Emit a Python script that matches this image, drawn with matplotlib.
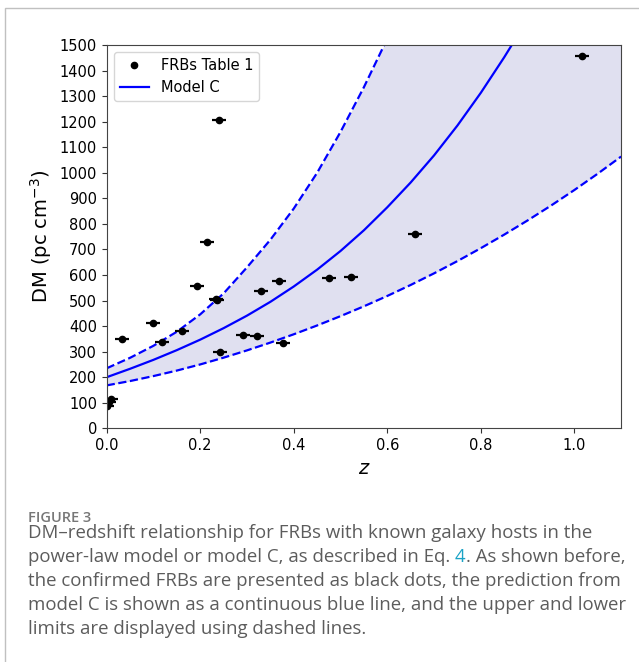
import matplotlib
matplotlib.use("Agg")
import matplotlib.pyplot as plt
from matplotlib.patches import Rectangle
import numpy as np

# FRBs from Table 1 (redshift, DM)
frb_z = [0.0008, 0.0039, 0.0087, 0.0337, 0.098, 0.1178, 0.16, 0.193, 0.2145, 0.234,
         0.2365, 0.241, 0.2432, 0.291, 0.3214, 0.3305, 0.3688, 0.378, 0.4755, 0.522,
         0.66, 1.016]
frb_dm = [88, 103, 114, 349, 413, 339, 380, 557, 730, 507,
          504, 1205, 297, 364, 362, 536, 578, 333, 589, 593,
          760, 1458]
frb_zerr = 0.015

# model C curves
model_z = [0.0, 0.05, 0.10, 0.15, 0.20, 0.25, 0.30, 0.35, 0.40, 0.45, 0.50, 0.55,
           0.60, 0.65, 0.70, 0.75, 0.80, 0.85, 0.90]
model_dm = [200, 233, 268, 306, 347, 392, 441, 495, 555, 621, 694, 775,
            865, 962, 1068, 1185, 1313, 1452, 1600]

upper_z = [0.0, 0.05, 0.10, 0.15, 0.20, 0.25, 0.30, 0.35, 0.40, 0.45, 0.50, 0.55, 0.60]
upper_dm = [235, 276, 323, 378, 446, 528, 630, 738, 860, 1000, 1160, 1335, 1525]

lower_z = [0.0, 0.05, 0.10, 0.15, 0.20, 0.25, 0.30, 0.35, 0.40, 0.45, 0.50, 0.55,
           0.60, 0.65, 0.70, 0.75, 0.80, 0.85, 0.90, 0.95, 1.00, 1.05, 1.10]
lower_dm = [168, 185, 204.5, 226, 250, 276.5, 305, 335.5, 368, 402.5, 439, 477.5,
            518, 561, 606.5, 654.5, 705, 758, 813.5, 871.5, 932.5, 996.5, 1063.5]

ymax = 1500

fig = plt.figure(figsize=(6.39, 6.62), dpi=100)
ax = fig.add_axes([0.167, 0.353, 0.805, 0.579])

# shaded band between the limits (upper limit leaves the plot at the top)
band_top = np.interp(lower_z, upper_z, upper_dm, right=ymax)
ax.fill_between(lower_z, lower_dm, band_top, color='#e0e0f0', lw=0)

ax.plot(upper_z, upper_dm, '--', color='blue', lw=1.6)
ax.plot(lower_z, lower_dm, '--', color='blue', lw=1.6)
ax.plot(model_z, model_dm, '-', color='blue', lw=1.6, label='Model C')

ax.errorbar(frb_z, frb_dm, xerr=frb_zerr, fmt='none', ecolor='black', elinewidth=1.6)
ax.plot(frb_z, frb_dm, 'o', color='black', ms=4.5, ls='none', label='FRBs Table 1')

ax.set_xlim(0, 1.1)
ax.set_ylim(0, ymax)
ax.set_xticks(np.arange(0, 1.01, 0.2))
ax.set_yticks(np.arange(0, 1501, 100))
ax.tick_params(labelsize=10.5, color='#333333')
for s in ax.spines.values():
    s.set_color('#444444')

ax.set_xlabel('$z$', fontsize=14)
ax.set_ylabel('DM (pc cm$^{-3}$)', fontsize=14)

h, l = ax.get_legend_handles_labels()
ax.legend([h[1], h[0]], [l[1], l[0]], loc='upper left', fontsize=10.5)

# page frame
fig.add_artist(Rectangle((4.5 / 639, -0.1), 1.2, (662 - 7.5) / 662 + 0.1,
                         transform=fig.transFigure, fill=False,
                         edgecolor='#c0c0c0', lw=1))

# caption
cap_col = '#5c5c5c'
x0 = 28 / 639
fig.text(x0, 1 - 522 / 662, 'FIGURE 3', fontsize=10.5, color='#777777',
         family='Open Sans', fontweight='semibold', va='baseline')

lines = [
    'DM\u2013redshift relationship for FRBs with known galaxy hosts in the',
    None,
    'the confirmed FRBs are presented as black dots, the prediction from',
    'model C is shown as a continuous blue line, and the upper and lower',
    'limits are displayed using dashed lines.',
]
cap_kw = dict(fontsize=13.4, color=cap_col, family='Open Sans', va='baseline')
base = 538
for i, txt in enumerate(lines):
    y = 1 - (base + 24 * i) / 662
    if txt is not None:
        fig.text(x0, y, txt, **cap_kw)
        continue
    # line with the equation reference in colour
    pre = 'power-law model or model C, as described in Eq.'
    fig.text(x0, y, pre, **cap_kw)
    r = fig.canvas.get_renderer()
    probe = fig.text(x0, y, pre + ' 4', **cap_kw)
    w_all = probe.get_window_extent(r).width / fig.bbox.width
    probe.remove()
    probe = fig.text(x0, y, '4', **cap_kw)
    w_4 = probe.get_window_extent(r).width / fig.bbox.width
    probe.remove()
    fig.text(x0 + w_all - w_4, y, '4', fontsize=13.4, color='#1aa3c6',
             family='Open Sans', va='baseline')
    fig.text(x0 + w_all, y, '. As shown before,', **cap_kw)

fig.savefig('out.png', dpi=100)
